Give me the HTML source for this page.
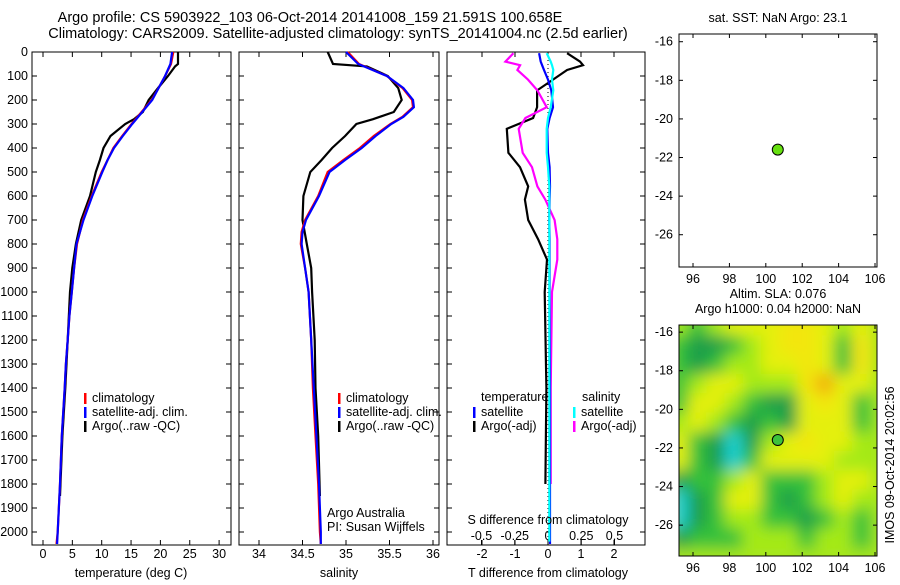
<!DOCTYPE html>
<html><head><meta charset="utf-8"><style>
body{margin:0;background:#fff;width:900px;height:580px;overflow:hidden}
svg{font-family:"Liberation Sans",sans-serif;font-size:12.5px}
</style></head><body>
<svg id="fig" width="900" height="580" viewBox="0 0 900 580">
<defs>
<filter id="blur" x="0" y="0" width="1" height="1"><feGaussianBlur stdDeviation="7.5"/></filter>
<clipPath id="mapclip"><rect x="679" y="325" width="198" height="231"/></clipPath>
</defs>
<text x="310" y="22" text-anchor="middle" font-size="14.5">Argo profile: CS 5903922_103 06-Oct-2014 20141008_159 21.591S 100.658E</text>
<text x="338" y="38" text-anchor="middle" font-size="14.5">Climatology: CARS2009. Satellite-adjusted climatology: synTS_20141004.nc (2.5d earlier)</text>
<g id="g"></g>
</svg>
<script>
// ---- data ----
const tDepth = [0,50,100,150,200,250,300,350,400,450,500,600,700,800,900,1000,1100,1200,1300,1400,1600,1800,2000,2050];
const tClim  = [22.2,21.8,20.8,19.7,18.5,16.8,15.1,13.5,12.0,11.0,10.0,8.3,6.8,5.8,5.3,4.9,4.5,4.2,3.9,3.7,3.2,2.9,2.5,2.3];
const tSat   = [22.0,21.7,20.8,19.7,18.6,16.9,15.2,13.6,12.1,11.0,10.1,8.4,6.9,5.7,5.3,4.9,4.5,4.2,3.9,3.7,3.2,2.9,2.5,2.4];
const aDepth = [0,50,60,100,150,200,250,280,300,350,400,450,500,600,700,800,900,1000,1200,1400,1600,1850];
const tArgo  = [23.0,23.0,22.5,21.3,19.6,18.0,17.0,15.5,14.0,11.5,10.3,9.7,9.0,8.0,6.5,5.6,5.0,4.6,4.2,3.8,3.3,2.9];
const sDepth = [0,50,100,150,200,230,270,300,350,400,450,500,600,700,750,800,900,1000,1200,1400,1600,1800,2000,2050];
const sClim  = [35.02,35.15,35.47,35.65,35.76,35.77,35.65,35.51,35.32,35.16,34.97,34.79,34.68,34.53,34.49,34.48,34.53,34.57,34.60,34.62,34.65,34.68,34.70,34.71];
const sSat   = [35.00,35.14,35.47,35.66,35.77,35.78,35.66,35.52,35.34,35.18,34.99,34.81,34.69,34.54,34.50,34.49,34.53,34.57,34.60,34.63,34.66,34.69,34.71,34.71];
const sArgo  = [34.79,34.85,35.24,35.48,35.60,35.64,35.55,35.31,35.12,34.99,34.84,34.72,34.59,34.51,34.50,34.55,34.60,34.61,34.64,34.65,34.68,34.70];
const dDepth = [5,40,55,75,115,160,230,275,320,420,480,560,615,700,780,865,1000,1400,1800];
const dTArgo = [0.58,0.97,1.06,0.58,0.15,-0.33,-0.33,-0.45,-1.25,-1.2,-0.85,-0.6,-0.7,-0.6,-0.3,-0.03,-0.1,-0.05,-0.08];
const dSArgo = [-0.26,-0.32,-0.21,-0.23,-0.15,-0.08,-0.01,-0.17,-0.22,-0.19,-0.12,-0.08,-0.02,0.05,0.07,0.07,0.03,0.02,0.02];
const dTSat  = [-0.27,-0.22,-0.18,-0.12,0.0,0.1,0.15,0.05,-0.02,0.0,0.05,0.06,0.05,0.04,0.05,0.05,0.05,0.06,0.06];
const dSSat  = [-0.01,0.02,0.03,0.04,0.03,0.04,0.02,0.0,-0.01,-0.01,0.0,0.01,0.01,0.01,0.01,0.01,0.01,0.01,0.01];
const depthTicks = [0,100,200,300,400,500,600,700,800,900,1000,1100,1200,1300,1400,1500,1600,1700,1800,1900,2000];
const tTicks = [0,5,10,15,20,25,30];
const sTicks = ['34','34.5','35','35.5','36'];
const dTTicks = [-2,-1,0,1,2];
const dSTicks = ['-0.5','-0.25','0','0.25','0.5'];
const lonTicks = [96,98,100,102,104,106];
const latTicks = [-16,-18,-20,-22,-24,-26];
const argoLon = 100.658, argoLat = -21.591;
const slaGrid = [
[3,2,3,4,4,4,5,5,4,3,4],
[2,1,1,2,3,4,5,5,4,2,5],
[2,1,2,3,3,4,4,5,4,2,5],
[2,3,4,4,3,3,3,5,6,4,4],
[2,4,4,3,2,1,1,4,5,4,2],
[3,4,3,2,1,2,1,4,4,4,2],
[4,2,1,0,1,3,4,5,4,4,3],
[4,2,1,0,2,4,4,4,4,3,3],
[1,2,2,3,4,2,2,2,3,4,4],
[0,1,2,4,4,2,1,2,3,4,3],
[0,1,2,3,3,2,2,1,2,3,2],
[1,2,2,2,3,3,3,2,3,3,2]];
// ---- drawing ----
const NS='http://www.w3.org/2000/svg';
const G=document.getElementById('g');
function el(tag,attrs,parent){const e=document.createElementNS(NS,tag);for(const k in attrs)e.setAttribute(k,attrs[k]);(parent||G).appendChild(e);return e;}
function txt(x,y,s,anchor,parent){const t=el('text',{x:x,y:y,'text-anchor':anchor||'middle'},parent);t.textContent=s;return t;}
const Y0=52, YB=545;
const yD=d=>Y0+d*0.24;
const xT=v=>43+v*5.87;
const xS=v=>259+(v-34)*87;
const xDT=v=>548+v*33;
const xDS=v=>548+v*133;
function panel(x0,x1,name){
  const r=el('rect',{x:x0,y:Y0,width:x1-x0,height:YB-Y0,fill:'none',stroke:'#000','stroke-width':1});
  
  
  depthTicks.forEach(d=>{el('line',{x1:x0,x2:x0+5,y1:yD(d),y2:yD(d),stroke:'#000'});el('line',{x1:x1-5,x2:x1,y1:yD(d),y2:yD(d),stroke:'#000'});});
}
function xticks(x0,x1,vals,fx,labels){
  vals.forEach((v,i)=>{const x=fx(+v);el('line',{x1:x,x2:x,y1:Y0,y2:Y0+5,stroke:'#000'});el('line',{x1:x,x2:x,y1:YB-5,y2:YB,stroke:'#000'});
    if(labels){const t=txt(x,558,String(v));}});
}
function line(depths,vals,fx,color,name,w){
  const p=el('polyline',{points:depths.map((d,i)=>fx(vals[i]).toFixed(1)+','+yD(d).toFixed(1)).join(' '),fill:'none',stroke:color,'stroke-width':w||2.2});
  
  
}
function legend(x,y,items){
  items.forEach((it,i)=>{el('rect',{x:x,y:y+i*14-9,width:2.5,height:11,fill:it[0]});const t=txt(x+8,y+i*14,it[1],'start');});
}
// panel 1 temperature
panel(32,231,'temperature-plot-area');
depthTicks.forEach(d=>{const t=txt(28,yD(d)+4,String(d),'end');});
xticks(32,231,tTicks,xT,true);
line(aDepth,tArgo,xT,'#000','argo-temperature-line');
line(tDepth,tClim,xT,'#f00','climatology-temperature-line');
line(tDepth,tSat,xT,'#00f','satellite-temperature-line');
legend(84,402,[['#f00','climatology'],['#00f','satellite-adj. clim.'],['#000','Argo(..raw -QC)']]);
let t=txt(131,577,'temperature (deg C)');
// panel 2 salinity
panel(239,439,'salinity-plot-area');
xticks(239,439,sTicks,xS,true);
line(aDepth,sArgo,xS,'#000','argo-salinity-line');
line(sDepth,sClim,xS,'#f00','climatology-salinity-line');
line(sDepth,sSat,xS,'#00f','satellite-salinity-line');
legend(338,402,[['#f00','climatology'],['#00f','satellite-adj. clim.'],['#000','Argo(..raw -QC)']]);
t=txt(327,517,'Argo Australia','start');
t=txt(327,531,'PI: Susan Wijffels','start');
t=txt(339,577,'salinity');
// panel 3 differences
panel(447,645,'difference-plot-area');
xticks(447,645,dTTicks,xDT,true);
dSTicks.forEach(v=>{const x=xDS(+v);el('line',{x1:x,x2:x,y1:YB-5,y2:YB,stroke:'#000'});const tt=txt(x,540,v);});
el('line',{x1:548,x2:548,y1:Y0,y2:YB,stroke:'#000','stroke-dasharray':'1,3'});
line(dDepth,dTArgo,xDT,'#000','argo-temperature-difference-line');
line(dDepth,dSArgo,xDS,'#f0f','argo-salinity-difference-line');
line(dDepth.concat([2050]),dTSat.concat([0.06]),xDT,'#00f','satellite-temperature-difference-line');
line(dDepth.concat([2040]),dSSat.concat([0.01]),xDS,'#0ff','satellite-salinity-difference-line');
t=txt(481,401,'temperature','start');
t=txt(582,401,'salinity','start');
legend(473,416,[['#00f','satellite'],['#000','Argo(-adj)']]);
legend(573,416,[['#0ff','satellite'],['#f0f','Argo(-adj)']]);
t=txt(548,524,'S difference from climatology');
t=txt(548,577,'T difference from climatology');
// map panels
function mapAxes(y0,y1,latTop,name,ttlLines){
  const xL=v=>679+(v-95.23)*18.2;
  const yL=v=>y0+(latTop-v)*19.3;
  const r=el('rect',{x:679,y:y0,width:198,height:y1-y0,fill:'none',stroke:'#000'});
  
  
  lonTicks.forEach(v=>{const x=xL(v);el('line',{x1:x,x2:x,y1:y0,y2:y0+4,stroke:'#000'});el('line',{x1:x,x2:x,y1:y1-4,y2:y1,stroke:'#000'});const tt=txt(x,y1+16,String(v));});
  latTicks.forEach(v=>{const y=yL(v);el('line',{x1:679,x2:683,y1:y,y2:y,stroke:'#000'});el('line',{x1:873,x2:877,y1:y,y2:y,stroke:'#000'});const tt=txt(673,y+4,String(v),'end');});
  ttlLines.forEach((s,i)=>{const tt=txt(778,y0-(ttlLines.length-i)*15+3,s);});
  return [xL,yL];
}
// SLA heatmap
const pal=['#1ccfcf','#1a9e4a','#36c13a','#a4ea14','#e4f010','#f3e60c','#f2ae0a'];
const mg=el('g',{'clip-path':'url(#mapclip)'});
const mgi=el('g',{filter:'url(#blur)'},mg);
el('rect',{x:660,y:305,width:240,height:270,fill:'#a6e61e'},mgi);
slaGrid.forEach((row,ri)=>row.forEach((v,ci)=>{
  const c=el('rect',{x:(679+ci*18.2-9).toFixed(1),y:(325+ri*19.3-9).toFixed(1),width:19.2,height:20.3,fill:pal[v]},mgi);
  
  
}));
let [xL2,yL2]=mapAxes(325,556,-15.63,'sla-map-area',['Altim. SLA: 0.076','Argo h1000: 0.04 h2000: NaN']);
let c2=el('circle',{cx:xL2(argoLon),cy:yL2(argoLat),r:5.5,fill:'#3cc23c',stroke:'#000'});


let [xL1,yL1]=mapAxes(34,267,-15.6,'sst-map-area',['sat. SST: NaN Argo: 23.1']);
let c1=el('circle',{cx:xL1(argoLon),cy:yL1(argoLat),r:5.5,fill:'#66e010',stroke:'#000'});


t=txt(0,0,'IMOS 09-Oct-2014 20:02:56');
t.setAttribute('transform','translate(894,465) rotate(-90)');


</script>
</body></html>
